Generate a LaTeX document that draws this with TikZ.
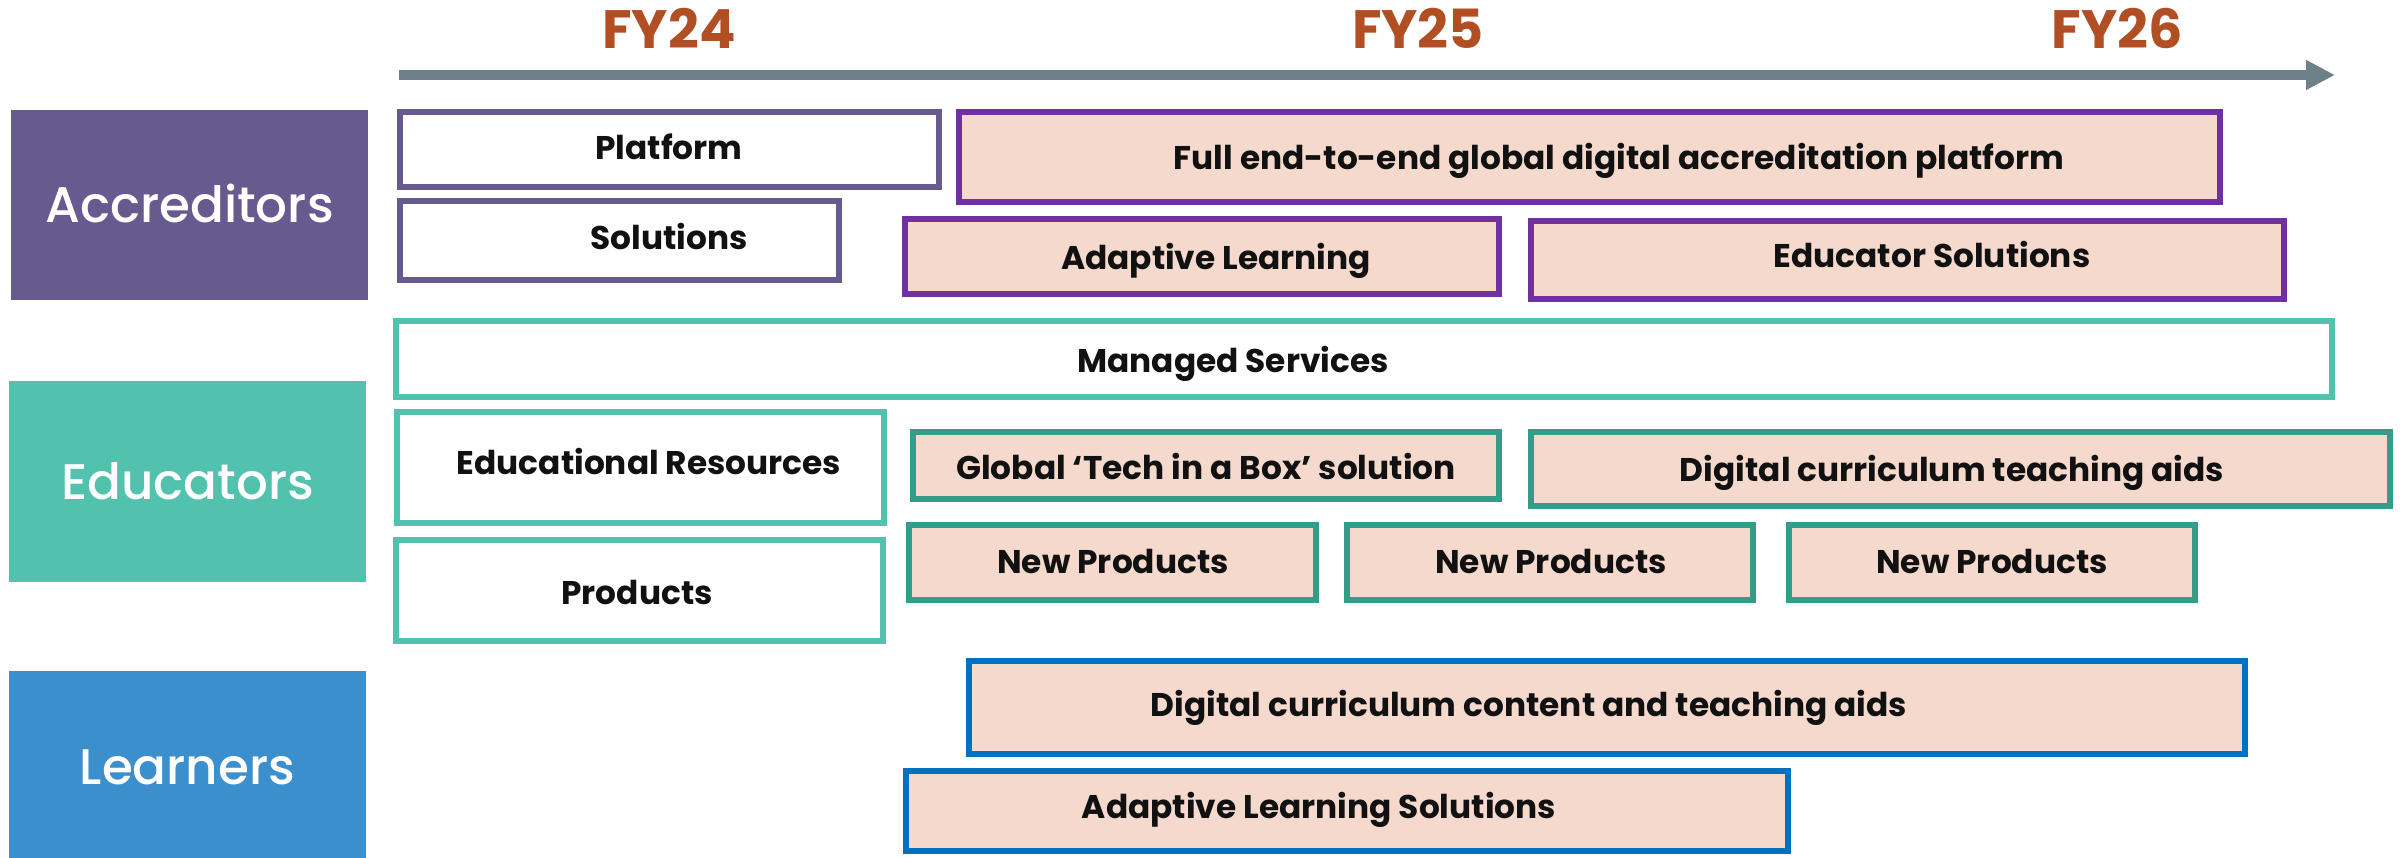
\documentclass[tikz,border=0pt]{standalone}
\usepackage{fontspec}
\setmainfont{Poppins}
\newfontfamily\semibold{Poppins SemiBold}
\newfontfamily\medium{Poppins Medium}
\usetikzlibrary{arrows.meta}

\definecolor{accpurple}{HTML}{675A8F}
\definecolor{accline}{HTML}{7030A0}
\definecolor{eduteal}{HTML}{52C1AE}
\definecolor{eduline}{HTML}{339D8A}
\definecolor{lrnblue}{HTML}{3B8FCD}
\definecolor{lrnline}{HTML}{0070C0}
\definecolor{peach}{HTML}{F4D9CC}
\definecolor{axisgray}{HTML}{6D7F87}
\definecolor{fyrust}{HTML}{B24E24}
\definecolor{ink}{HTML}{111111}

% #1 style, #2 name, #3-#6 outer corners, #7-#8 label position, #9 label
\newcommand\roadbox[9]{%
  \pgfmathsetmacro\bw{#5-#3-6}%
  \pgfmathsetmacro\bh{#6-#4-6}%
  \node[#1, minimum width=\bw pt, minimum height=\bh pt] (#2) at ({(#3+#5)/2},{(#4+#6)/2}) {};
  \node[boxtext] (#2-text) at (#7,#8) {#9};
}

\tikzset{
  bar/.style={line width=6pt, inner sep=0pt, outer sep=0pt},
  accplain/.style={bar, draw=accpurple, fill=white},
  accplan/.style={bar, draw=accline, fill=peach},
  eduplain/.style={bar, draw=eduteal, fill=white},
  eduplan/.style={bar, draw=eduline, fill=peach},
  lrnplan/.style={bar, draw=lrnline, fill=peach},
  boxtext/.style={inner sep=0pt, text=ink, font=\bfseries\fontsize{32.8}{33}\selectfont,
    text height=23pt, text depth=0pt},
  header/.style={inner sep=0pt, text=white, font=\medium\fontsize{50}{50}\selectfont,
    text height=35pt, text depth=0pt},
  fy/.style={inner sep=0pt, text=fyrust, font=\bfseries\fontsize{54}{54}\selectfont,
    text height=38pt, text depth=0pt},
  axis/.style={draw=axisgray, line width=9.5pt, -{Triangle[length=29pt,width=28pt]}}
}

\begin{document}
\begin{tikzpicture}[x=1pt, y=-1pt]
\useasboundingbox (0,0) rectangle (2404,858);
\fill[white] (0,0) rectangle (2404,858);

% timeline
\node[fy] (fy24) at (669,30) {FY24};
\node[fy] (fy25) at (1418,30) {FY25};
\node[fy] (fy26) at (2117,30) {FY26};
\coordinate (axisstart) at (399,75);
\coordinate (axisend) at (2335,75);
\draw[axis] (axisstart) -- (axisend);

% audience headers
\node[header, fill=accpurple, minimum width=357pt, minimum height=190pt] (acc) at (189.5,205) {Accreditors};
\node[header, fill=eduteal, minimum width=357pt, minimum height=201pt] (edu) at (187.5,481.5) {Educators};
\node[header, fill=lrnblue, minimum width=357pt, minimum height=192pt] (lrn) at (187.5,767) {Learners};

% accreditors
\roadbox{accplain}{platform}{397}{109}{942}{190}{669}{148}{Platform}
\roadbox{accplain}{solutions}{397}{198}{842}{283}{669}{238}{Solutions}
\roadbox{accplan}{fullplat}{956}{109}{2223}{205}{1619}{158}{Full end-to-end global digital accreditation platform}
\roadbox{accplan}{adapt}{902}{216}{1502}{297}{1216}{258}{Adaptive Learning}
\roadbox{accplan}{edsol}{1528}{218}{2287}{302}{1932}{256}{Educator Solutions}

% educators
\roadbox{eduplain}{managed}{393}{318}{2335}{400}{1233}{361}{Managed Services}
\roadbox{eduplain}{edres}{394}{409}{887}{526}{649}{463}{Educational Resources}
\roadbox{eduplain}{products}{393}{537}{886}{644}{637}{593}{Products}
\roadbox{eduplan}{techbox}{910}{429}{1502}{502}{1206}{468}{Global ‘Tech in a Box’ solution}
\roadbox{eduplan}{teachaids}{1528}{429}{2393}{509}{1952}{470}{Digital curriculum teaching aids}
\roadbox{eduplan}{newprod1}{906}{522}{1319}{603}{1113}{562}{New Products}
\roadbox{eduplan}{newprod2}{1344}{522}{1756}{603}{1551}{562}{New Products}
\roadbox{eduplan}{newprod3}{1786}{522}{2198}{603}{1992}{562}{New Products}

% learners
\roadbox{lrnplan}{content}{966}{658}{2248}{757}{1529}{705}{Digital curriculum content and teaching aids}
\roadbox{lrnplan}{alsol}{903}{768}{1791}{854}{1319}{807}{Adaptive Learning Solutions}
\end{tikzpicture}
\end{document}
